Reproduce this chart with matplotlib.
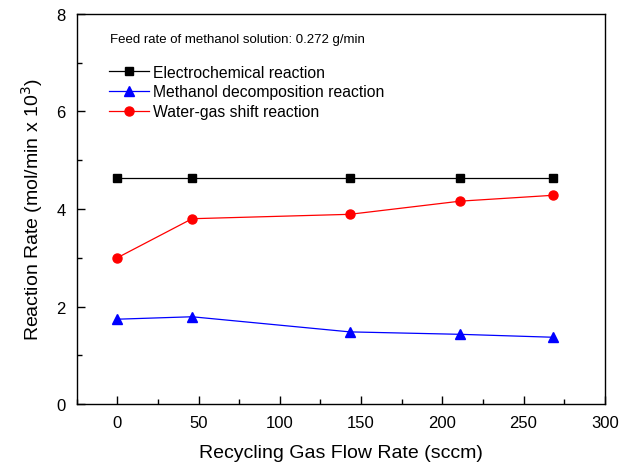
import matplotlib
matplotlib.use("Agg")
import matplotlib.pyplot as plt
from matplotlib.ticker import MultipleLocator

plt.rcParams["font.family"] = ["Liberation Sans", "DejaVu Sans"]

# data
flow = [0, 46, 143, 211, 268]
electrochemical = [4.63, 4.63, 4.63, 4.63, 4.63]
decomposition = [1.74, 1.79, 1.48, 1.43, 1.37]
water_gas = [3.00, 3.80, 3.89, 4.16, 4.28]

fig = plt.figure(figsize=(6.19, 4.64), dpi=100)
ax = fig.add_axes([0.124, 0.127, 0.853, 0.841])

ax.plot(flow, electrochemical, color="black", lw=0.9, marker="s", ms=5.5,
        label="Electrochemical reaction")
ax.plot(flow, decomposition, color="blue", lw=0.9, marker="^", ms=7,
        label="Methanol decomposition reaction")
ax.plot(flow, water_gas, color="red", lw=0.9, marker="o", ms=6.5,
        label="Water-gas shift reaction")

ax.set_xlim(-25, 300)
ax.set_ylim(0, 8)
ax.xaxis.set_major_locator(MultipleLocator(50))
ax.xaxis.set_minor_locator(MultipleLocator(25))
ax.yaxis.set_major_locator(MultipleLocator(2))
ax.yaxis.set_minor_locator(MultipleLocator(1))
ax.tick_params(which="both", direction="in", labelsize=12, width=1)
ax.tick_params(which="major", length=6, pad=8)
ax.tick_params(which="minor", length=3.5)
for s in ax.spines.values():
    s.set_linewidth(1)

ax.set_xlabel("Recycling Gas Flow Rate (sccm)", fontsize=14, labelpad=10)
ax.set_ylabel("Reaction Rate (mol/min x 10$^3$)", fontsize=14, labelpad=8)

ax.text(0.063, 0.935, "Feed rate of methanol solution: 0.272 g/min",
        transform=ax.transAxes, fontsize=9.5, va="center")
ax.legend(loc="upper left", bbox_to_anchor=(0.05, 0.886), frameon=False,
          fontsize=11.3, handlelength=2.55, handletextpad=0.2,
          labelspacing=0.3, borderaxespad=0)

fig.savefig("out.png", dpi=100)
